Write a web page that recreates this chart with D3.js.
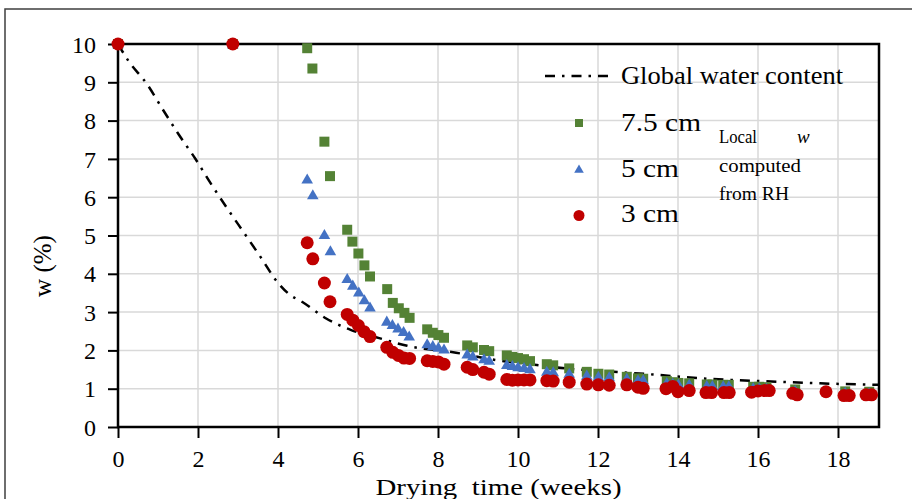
<!DOCTYPE html>
<html><head><meta charset="utf-8">
<script src="https://cdn.jsdelivr.net/npm/d3@7"></script>
<style>body{margin:0;background:#fff}svg{display:block}text{font-family:"Liberation Serif","Times New Roman",serif;fill:#000}</style>
</head><body><svg id="c" width="912" height="499"></svg>
<script>
// ---- data ----
const xTicks = [0,2,4,6,8,10,12,14,16,18];
const yTicks = [0,1,2,3,4,5,6,7,8,9,10];
const seriesNames = ["Global water content","7.5 cm","5 cm","3 cm"];

const tGlobal = [0,0.26,0.72,1.12,1.51,1.93,2.33,2.73,3.15,3.57,3.98,4.3,4.6,5.16,5.83,6.53,7.23,8.45,9.43,10.47,11.18,12.3,13.38,14.59,15.32,16.05,17.55,19.0];
const wGlobal = [10,9.56,8.96,8.29,7.65,7.01,6.34,5.71,5.07,4.43,3.79,3.45,3.27,2.86,2.53,2.32,2.12,1.94,1.75,1.62,1.53,1.45,1.37,1.27,1.23,1.20,1.14,1.10];

const t75 = [0,2.87,4.73,4.86,5.16,5.3,5.73,5.86,6.01,6.16,6.3,6.73,6.87,7.02,7.16,7.29,7.73,7.87,8.01,8.15,8.73,8.87,9.15,9.28,9.72,9.86,10.0,10.15,10.3,10.72,10.88,11.28,11.72,12.01,12.28,12.72,13.0,13.13,13.72,13.87,14.01,14.28,14.72,14.86,15.13,15.27,15.88,16.03,16.21,16.93,18.18,18.78];
const w75 = [10,10,9.89,9.36,7.45,6.55,5.15,4.84,4.53,4.22,3.93,3.60,3.24,3.10,2.98,2.85,2.55,2.46,2.40,2.33,2.13,2.08,2.01,1.98,1.87,1.83,1.80,1.77,1.72,1.64,1.61,1.53,1.44,1.39,1.37,1.31,1.27,1.26,1.20,1.17,1.15,1.14,1.11,1.11,1.10,1.10,1.05,1.05,1.04,0.98,0.93,0.92];

const t5 = [0,2.87,4.73,4.87,5.16,5.31,5.73,5.87,6.02,6.16,6.3,6.72,6.86,7.0,7.14,7.28,7.73,7.87,8.01,8.15,8.73,8.87,9.15,9.28,9.72,9.86,10.0,10.15,10.3,10.72,10.88,11.28,11.72,12.01,12.28,12.72,13.0,13.13,13.72,13.87,14.01,14.28,14.72,14.86,15.13,15.27,15.88,16.03,16.21,16.93,18.18,18.78];
const w5 = [10,10,6.47,6.06,5.02,4.60,3.87,3.70,3.52,3.32,3.13,2.76,2.67,2.58,2.49,2.37,2.17,2.12,2.08,2.03,1.90,1.85,1.78,1.74,1.63,1.60,1.57,1.55,1.52,1.45,1.44,1.40,1.35,1.32,1.31,1.27,1.23,1.23,1.16,1.14,1.12,1.11,1.08,1.08,1.07,1.07,1.02,1.02,1.01,0.95,0.90,0.89];

const t3 = [0,2.87,4.73,4.87,5.16,5.3,5.73,5.87,6.01,6.15,6.3,6.72,6.87,7.01,7.15,7.29,7.73,7.87,8.01,8.15,8.73,8.87,9.15,9.28,9.72,9.86,10.0,10.15,10.3,10.72,10.88,11.28,11.72,12.01,12.28,12.72,13.0,13.13,13.7,13.87,14.0,14.28,14.7,14.84,15.15,15.28,15.84,16.0,16.16,16.28,16.87,16.98,17.7,18.15,18.28,18.7,18.84];
const w3 = [10,10,4.81,4.39,3.76,3.27,2.94,2.79,2.65,2.49,2.36,2.08,1.95,1.87,1.80,1.79,1.73,1.71,1.70,1.64,1.56,1.50,1.43,1.38,1.24,1.22,1.23,1.23,1.23,1.21,1.20,1.17,1.12,1.10,1.09,1.10,1.04,1.01,1.00,1.06,0.92,0.95,0.90,0.90,0.90,0.90,0.91,0.94,0.95,0.95,0.88,0.84,0.92,0.82,0.82,0.84,0.84];

// ---- drawing ----
const svg = d3.select("#c");
const x = d3.scaleLinear().domain([0,19]).range([118,878]);
const y = d3.scaleLinear().domain([0,10]).range([427,44]);
const GREEN="#548235", BLUE="#4472C4", RED="#C00000";

// outer frame
svg.append("rect").attr("x",5).attr("y",9).attr("width",930).attr("height",520)
  .attr("fill","none").attr("stroke","#3f3f3f").attr("stroke-width",1.5);

// gridlines
const g = svg.append("g");
g.selectAll(".hg").data(yTicks.filter(d=>d>0&&d<10)).join("line")
  .attr("x1",x(0)).attr("x2",x(19)).attr("y1",d=>y(d)).attr("y2",d=>y(d))
  .attr("stroke","#d9d9d9").attr("stroke-width",1.5);
g.selectAll(".vg").data(xTicks.filter(d=>d>0)).join("line")
  .attr("x1",d=>x(d)).attr("x2",d=>x(d)).attr("y1",y(0)).attr("y2",y(10))
  .attr("stroke","#d9d9d9").attr("stroke-width",1.5);

// axes
const xAxis = d3.axisBottom(x).tickValues(xTicks).tickSize(11).tickPadding(12).tickFormat(d3.format("d"));
const yAxis = d3.axisLeft(y).tickValues(yTicks).tickSize(10).tickPadding(12).tickFormat(d3.format("d"));
const gx = svg.append("g").attr("transform",`translate(0,${y(0)})`).call(xAxis);
const gy = svg.append("g").attr("transform",`translate(${x(0)},0)`).call(yAxis);
[gx,gy].forEach(a=>{
  a.select(".domain").remove();
  a.selectAll(".tick line").attr("stroke","#000").attr("stroke-width",2);
  a.selectAll(".tick text").attr("font-size",24).attr("font-family","Liberation Serif").attr("fill","#000");
});
gy.selectAll(".tick text").attr("dy","0.34em");

// plot frame
svg.append("rect").attr("x",x(0)).attr("y",y(10)).attr("width",x(19)-x(0)+1).attr("height",y(0)-y(10))
  .attr("fill","none").attr("stroke","#000").attr("stroke-width",2.5);

// global line
const gl = d3.zip(tGlobal,wGlobal);
svg.append("path").datum(gl)
  .attr("d",d3.line().x(d=>x(d[0])).y(d=>y(d[1])).curve(d3.curveMonotoneX))
  .attr("fill","none").attr("stroke","#000").attr("stroke-width",2.5)
  .attr("stroke-dasharray","10,7,2.5,7");

// markers
const sq = d3.symbol().type(d3.symbolSquare).size(100);
const tri = d3.symbol().type(d3.symbolTriangle).size(58);
svg.append("g").selectAll("path").data(d3.zip(t75,w75)).join("path")
  .attr("d",sq).attr("transform",d=>`translate(${x(d[0])},${y(d[1])})`).attr("fill",GREEN);
svg.append("g").selectAll("path").data(d3.zip(t5,w5)).join("path")
  .attr("d",tri).attr("transform",d=>`translate(${x(d[0])},${y(d[1])+1})`).attr("fill",BLUE);
svg.append("g").selectAll("circle").data(d3.zip(t3,w3)).join("circle")
  .attr("cx",d=>x(d[0])).attr("cy",d=>y(d[1])).attr("r",6.5).attr("fill",RED);

// helper for width-matched text
function txt(sel, xx, yy, size, str, len, anchor){
  const t = sel.append("text").attr("x",xx).attr("y",yy).attr("font-size",size).text(str);
  if (len) t.attr("textLength",len).attr("lengthAdjust","spacingAndGlyphs");
  if (anchor) t.attr("text-anchor",anchor);
  return t;
}

// axis titles
txt(svg, 498.5, 495, 24, "Drying  time (weeks)", 246, "middle").attr("xml:space","preserve");
svg.append("text").attr("transform","translate(51,266) rotate(-90)").attr("text-anchor","middle").attr("font-size",25)
  .text("w (%)");

// legend
const lg = svg.append("g");
lg.append("line").attr("x1",545).attr("x2",615).attr("y1",76).attr("y2",76)
  .attr("stroke","#000").attr("stroke-width",2.5).attr("stroke-dasharray","10,7,2.5,7");
txt(lg, 621, 84, 26, seriesNames[0], 222);
lg.append("path").attr("d",d3.symbol().type(d3.symbolSquare).size(64)).attr("transform","translate(579,123)").attr("fill",GREEN);
txt(lg, 621, 131, 26, seriesNames[1], 80);
lg.append("path").attr("d",d3.symbol().type(d3.symbolTriangle).size(40)).attr("transform","translate(579,170)").attr("fill",BLUE);
txt(lg, 621, 177, 26, seriesNames[2], 58);
lg.append("circle").attr("cx",579).attr("cy",215.5).attr("r",5.5).attr("fill",RED);
txt(lg, 621, 222, 26, seriesNames[3], 58);

// annotation
txt(lg, 719, 143, 18, "Local", 38);
lg.append("text").attr("x",797).attr("y",143).attr("font-size",19).attr("font-style","italic").text("w");
txt(lg, 719, 172, 18, "computed", 82);
txt(lg, 719, 200, 18, "from RH", 70);
</script></body></html>
